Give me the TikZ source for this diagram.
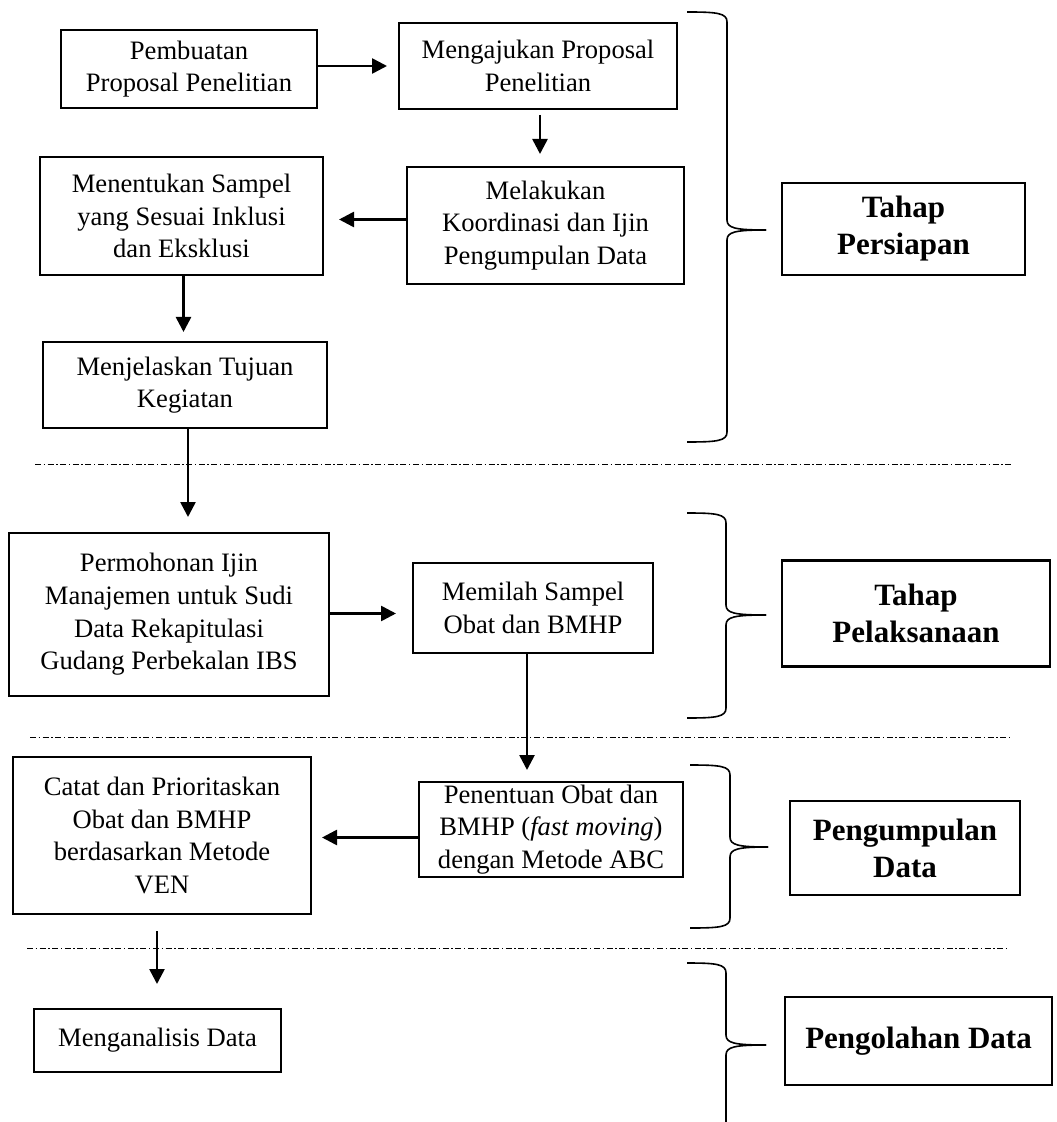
\documentclass[tikz,border=0pt]{standalone}
\usepackage{fontspec}
\setmainfont{Liberation Serif}
\usetikzlibrary{arrows.meta,calc}
\newcommand{\mybrace}[6]{%
  \draw[brc] (#1,#4) .. controls ({#2-10},#4) and (#2,{#4+1}) .. (#2,{#4+10})
    -- (#2,{#5-10}) .. controls (#2,{#5-2}) and ({#2+8},#5) .. (#3,#5);
  \draw[brc] (#3,#5) .. controls ({#2+8},#5) and (#2,{#5+2}) .. (#2,{#5+10})
    -- (#2,{#6-10}) .. controls (#2,{#6-1}) and ({#2-10},#6) .. (#1,#6);}
\tikzset{
  box/.style={draw, line width=1pt, inner sep=0pt, align=center,
    font=\fontsize{13.3}{16.3}\selectfont},
  lbl/.style={draw, line width=1.1pt, inner sep=0pt, align=center,
    font=\fontsize{15.5}{18.5}\selectfont\bfseries},
  arr/.style={line width=1.3pt, -{Triangle[length=7.5pt,width=7.5pt]}},
  brc/.style={line width=0.8pt},
  sep/.style={line width=0.5pt, dash pattern=on 3pt off 1.3pt on 0.7pt off 1.3pt}
}
\begin{document}
\begin{tikzpicture}[x=0.5pt,y=-0.5pt]
\useasboundingbox (0,0) rectangle (1056,1122);
% boxes
\node[box, minimum width=128pt, minimum height=39pt] (A) at (189,69) {Pembuatan\\Proposal Penelitian};
\node[box, minimum width=139pt, minimum height=43pt] (B) at (538,66) {Mengajukan Proposal\\Penelitian};
\node[box, minimum width=138.5pt, minimum height=58.5pt] (C) at (545.5,225.5) {Melakukan\\Koordinasi dan Ijin\\Pengumpulan Data};
\node[box, minimum width=141.5pt, minimum height=59pt] (D) at (181.5,216) {Menentukan Sampel\\yang Sesuai Inklusi\\dan Eksklusi};
\node[box, minimum width=142pt, minimum height=43pt] (E) at (185,385) {Menjelaskan Tujuan\\Kegiatan};
\node[box, minimum width=160pt, minimum height=81.5pt] (F) at (169,614.5) {Permohonan Ijin\\Manajemen untuk Sudi\\Data Rekapitulasi\\Gudang Perbekalan IBS};
\node[box, minimum width=120pt, minimum height=45pt] (G) at (533,608) {Memilah Sampel\\Obat dan BMHP};
\node[box, minimum width=132pt, minimum height=47.5pt] (H) at (551,829.5) {Penentuan Obat dan\\BMHP (\textit{fast moving})\\dengan Metode ABC};
\node[box, minimum width=149pt, minimum height=78.5pt] (I) at (162,835.5) {Catat dan Prioritaskan\\Obat dan BMHP\\berdasarkan Metode\\VEN};
\node[box, minimum width=123.5pt, minimum height=31.5pt] (J) at (157.5,1040.5) {Menganalisis Data};
% stage labels
\node[lbl, minimum width=121.5pt, minimum height=46pt] (L1) at (903.5,229) {Tahap\\Persiapan};
\node[lbl, minimum width=134pt, minimum height=53pt] (L2) at (916,613.5) {Tahap\\Pelaksanaan};
\node[lbl, minimum width=115pt, minimum height=47pt] (L3) at (905,848) {Pengumpulan\\Data};
\node[lbl, minimum width=133.5pt, minimum height=44pt] (L4) at (918.5,1041) {Pengolahan Data};
% connectors
\draw[arr] (A.east |- B.west) -- ($(A.east |- B.west)+(69,0)$);
\draw[arr] ($(B.south)+(2,5)$) -- ($(B.south |- C.north)+(2,-12)$);
\draw[arr] ($(C.west)+(0,-6)$) -- ($(C.west -| D.east)+(15,-6)$);
\draw[arr] ($(D.south)+(2,0)$) -- ($(D.south |- E.north)+(2,-9)$);
\draw[arr] ($(E.south)+(3,0)$) -- ($(E.south |- F.north)+(3,-15)$);
\draw[arr] ($(F.east)+(0,-1)$) -- ($(F.east -| G.west)+(-16,-1)$);
\draw[arr] ($(G.south)+(-6,0)$) -- ($(G.south |- H.north)+(-6,-11)$);
\draw[arr] ($(H.west)+(0,8)$) -- ($(H.west -| I.east)+(10,8)$);
\draw[arr] ($(I.south)+(-5,16)$) -- ($(I.south |- J.north)+(-5,-24)$);
% separators
\coordinate (s1a) at (35,464); \coordinate (s1b) at (1013,464);
\coordinate (s2a) at (30,737); \coordinate (s2b) at (1010,737);
\coordinate (s3a) at (27,948); \coordinate (s3b) at (1008,948);
\draw[sep] (s1a) -- (s1b);
\draw[sep] (s2a) -- (s2b);
\draw[sep] (s3a) -- (s3b);
% braces
\mybrace{687}{727}{766}{12}{230}{442}
\mybrace{687}{726}{766}{513}{615}{718}
\mybrace{690}{730}{768}{765}{847}{928}
\draw[brc] (687,963) .. controls (716,963) and (726,964) .. (726,973)
  -- (726,1035) .. controls (726,1043) and (734,1045) .. (766,1045);
\draw[brc] (766,1045) .. controls (734,1045) and (726,1047) .. (726,1055) -- (726,1122);
\end{tikzpicture}
\end{document}
